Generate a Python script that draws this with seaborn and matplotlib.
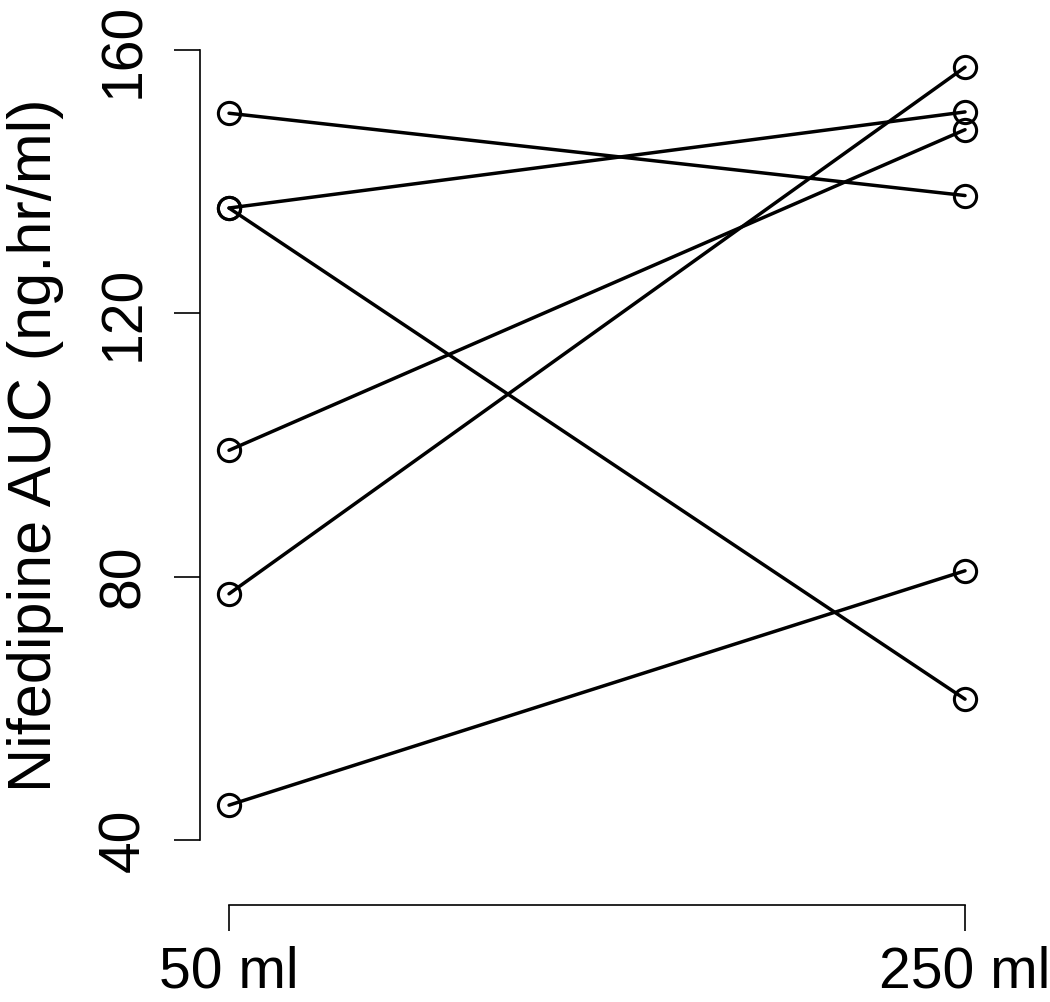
"""Paired AUC plot, 50 ml vs 250 ml."""

import matplotlib

matplotlib.use("Agg")
import matplotlib.pyplot as plt
import pandas as pd
import seaborn as sns

volumes = ["50 ml", "250 ml"]
subjects = ["S1", "S2", "S3", "S4", "S5", "S6"]
auc_50 = [150.4, 136.0, 136.0, 99.2, 77.4, 45.3]
auc_250 = [137.9, 150.6, 61.4, 147.9, 157.4, 80.9]
y_ticks = [40, 80, 120, 160]

frame = pd.DataFrame(
    {
        "subject": subjects * 2,
        "volume": [1] * len(subjects) + [2] * len(subjects),
        "auc": auc_50 + auc_250,
    }
)

sns.set_style("white")
plt.rcParams["font.family"] = ["Liberation Sans", "DejaVu Sans"]
plt.rcParams["text.color"] = "black"
plt.rcParams["axes.labelcolor"] = "black"
plt.rcParams["xtick.color"] = "black"
plt.rcParams["ytick.color"] = "black"

fig = plt.figure(figsize=(10.5, 10.02), dpi=100)
ax = fig.add_axes([0.1901, 0.1301, 0.7570, 0.8515])

sns.lineplot(
    data=frame,
    x="volume",
    y="auc",
    units="subject",
    estimator=None,
    color="black",
    linewidth=2.5,
    marker="o",
    markersize=16,
    markerfacecolor="none",
    markeredgecolor="black",
    markeredgewidth=2.2,
    ax=ax,
)

ax.set_xlim(0.96, 2.04)
ax.set_ylim(35.2, 164.8)
ax.set_xticks([1, 2])
ax.set_xticklabels(volumes)
ax.set_yticks(y_ticks)
ax.set_yticklabels([str(t) for t in y_ticks], rotation=90, va="center")
ax.set_xlabel("")
ax.set_ylabel("Nifedipine AUC (ng.hr/ml)", fontsize=44, labelpad=24)

for side in ["top", "right"]:
    ax.spines[side].set_visible(False)
for side in ["left", "bottom"]:
    ax.spines[side].set_color("black")
    ax.spines[side].set_linewidth(1.2)
ax.spines["left"].set_bounds(40, 160)
ax.spines["bottom"].set_bounds(1, 2)
ax.spines["bottom"].set_position(("outward", 24))

ax.tick_params(axis="both", length=19, width=1.2, color="black", labelsize=41,
               labelcolor="black", left=True, bottom=True)
ax.tick_params(axis="x", pad=10)
ax.tick_params(axis="y", pad=16)

fig.savefig("out.png", dpi=100)
